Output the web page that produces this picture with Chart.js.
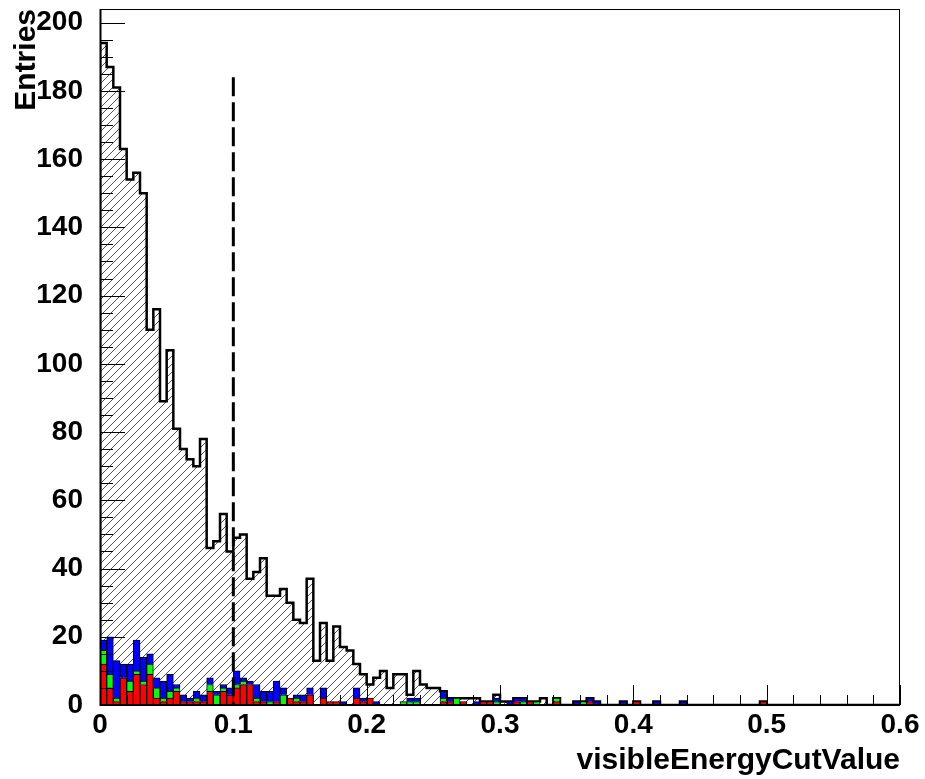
<!DOCTYPE html>
<html>
<head>
<meta charset="utf-8">
<script src="https://cdn.jsdelivr.net/npm/chart.js@4/dist/chart.umd.min.js"></script>
<style>
  html, body { margin: 0; padding: 0; background: #fff; }
</style>
</head>
<body>
<canvas id="histo" width="925" height="779"></canvas>
<script>
// binning : 120 bins de 0 a 0.6
var binMin   = 0;
var binWidth = 0.005;

// histogramme hachure (fond)
var fond = [
  194, 187, 181, 163, 154, 156, 150, 110, 116, 89,
  104, 81, 75, 72, 70, 78, 46, 48, 56, 45,
  49, 50, 37, 39, 43, 32, 32, 34, 30, 25,
  24, 37, 13, 24, 13, 23, 17, 16, 12, 9,
  6, 8, 10, 5, 9, 9, 3, 10, 6, 5,
  5, 4, 2, 2, 2, 2, 2, 1, 1, 3,
  1, 1, 2, 2, 1, 1, 2, 0, 2, 0,
  0, 1, 1, 2, 1, 0, 0, 0, 1, 0,
  1, 0, 0, 1, 0, 0, 0, 1, 0, 0,
  0, 0, 0, 0, 0, 0, 0, 0, 0, 1,
  0, 0, 0, 0, 0, 0, 0, 0, 0, 0,
  0, 0, 0, 0, 0, 0, 0, 0, 0, 0
];

// empilement : rouge en bas, vert, bleu en haut
var rouge = [
  12, 5, 1, 8, 4, 9, 6, 9, 2, 1,
  2, 4, 1, 1, 1, 1, 4, 0, 4, 3,
  5, 6, 6, 1, 1, 0, 1, 0, 2, 1,
  1, 3, 0, 2, 1, 1, 0, 0, 2, 1,
  2, 0, 0, 0, 0, 0, 0, 0, 0, 0,
  0, 1, 1, 0, 1, 0, 0, 1, 1, 0,
  0, 0, 1, 0, 1, 0, 0, 0, 1, 0,
  0, 0, 0, 1, 0, 0, 0, 0, 0, 0,
  1, 0, 0, 0, 0, 0, 0, 0, 0, 0,
  0, 0, 0, 0, 0, 0, 0, 0, 0, 1,
  0, 0, 0, 0, 0, 0, 0, 0, 0, 0,
  0, 0, 0, 0, 0, 0, 0, 0, 0, 0
];

var vert = [
  4, 4, 1, 0, 3, 1, 1, 3, 3, 1,
  2, 1, 0, 0, 1, 0, 2, 3, 1, 0,
  1, 1, 0, 1, 0, 1, 0, 3, 0, 1,
  0, 0, 0, 0, 0, 0, 0, 0, 0, 0,
  0, 0, 0, 0, 0, 1, 1, 1, 0, 0,
  0, 1, 0, 2, 0, 0, 0, 0, 0, 1,
  0, 0, 0, 1, 0, 1, 0, 0, 1, 0,
  0, 0, 1, 0, 0, 0, 0, 0, 0, 0,
  0, 0, 0, 0, 0, 0, 0, 0, 0, 0,
  0, 0, 0, 0, 0, 0, 0, 0, 0, 0,
  0, 0, 0, 0, 0, 0, 0, 0, 0, 0,
  0, 0, 0, 0, 0, 0, 0, 0, 0, 0
];

var bleu = [
  3, 11, 11, 4, 5, 9, 7, 3, 3, 5,
  5, 1, 2, 1, 2, 2, 2, 1, 1, 2,
  4, 1, 1, 4, 3, 3, 6, 2, 0, 1,
  2, 2, 0, 3, 0, 0, 1, 0, 3, 1,
  0, 1, 0, 0, 0, 0, 1, 1, 0, 0,
  0, 2, 1, 0, 0, 0, 1, 0, 0, 1,
  0, 1, 1, 1, 0, 0, 0, 0, 0, 0,
  0, 1, 0, 1, 1, 0, 0, 0, 1, 0,
  0, 0, 0, 1, 0, 0, 0, 1, 0, 0,
  0, 0, 0, 0, 0, 0, 0, 0, 0, 0,
  0, 0, 0, 0, 0, 0, 0, 0, 0, 0,
  0, 0, 0, 0, 0, 0, 0, 0, 0, 0
];

// ligne de coupure
var coupure        = 0.1;
var hauteurCoupure = 184;

var xMax = 0.6;
var yMax = 204;

function motifHachure(ctx) {
  var t = 8;
  var c = document.createElement("canvas");
  c.width = t;
  c.height = t;
  var g = c.getContext("2d");
  g.strokeStyle = "#555";
  g.lineWidth = 1;
  for (var k = -1; k <= 1; k++) {
    g.beginPath();
    g.moveTo(k * t - 1, t + 1);
    g.lineTo(k * t + t + 1, -1);
    g.stroke();
  }
  return ctx.createPattern(c, "repeat");
}

function pointsBarres(valeurs) {
  return valeurs.map(function(v, i) {
    return { x: binMin + (i + 0.5) * binWidth, y: v > 0 ? v : null };
  });
}

// contour en escalier : chaque point porte la valeur du bin qui se termine a x
function pointsContour(valeurs) {
  var pts = [{ x: binMin, y: 0 }];
  valeurs.forEach(function(v, i) {
    pts.push({ x: binMin + (i + 1) * binWidth, y: v });
  });
  return pts;
}

// pas de marge automatique autour des axes
function sansMarge(s) {
  s.paddingTop = 0;
  s.paddingBottom = 0;
  s.paddingLeft = 0;
  s.paddingRight = 0;
}

// cadre et graduations facon ROOT (vers l'interieur)
var cadre = {
  id: "cadre",
  afterDatasetsDraw: function(chart) {
    var ctx = chart.ctx;
    var a = chart.chartArea;
    var sx = chart.scales.x;
    var sy = chart.scales.y;
    ctx.save();
    ctx.strokeStyle = "#000";
    ctx.lineWidth = 1;
    ctx.strokeRect(a.left + 0.5, a.top + 0.5, a.right - a.left - 1, a.bottom - a.top);

    for (var v = 0; v <= 200; v += 5) {
      var py = Math.round(sy.getPixelForValue(v)) + 0.5;
      var ly = v % 20 === 0 ? 25 : 13;
      ctx.beginPath();
      ctx.moveTo(a.left, py);
      ctx.lineTo(a.left + ly, py);
      ctx.stroke();
    }
    for (var i = 0; i <= 30; i++) {
      var px = Math.round(sx.getPixelForValue(i * 0.02)) + 0.5;
      var lx = i % 5 === 0 ? 20 : 10;
      ctx.beginPath();
      ctx.moveTo(px, a.bottom);
      ctx.lineTo(px, a.bottom - lx);
      ctx.stroke();
    }

    ctx.lineWidth = 2;
    ctx.beginPath();
    ctx.moveTo(a.left + 0.5, a.top);
    ctx.lineTo(a.left + 0.5, a.bottom);
    ctx.lineTo(a.right, a.bottom);
    ctx.stroke();
    ctx.restore();
  }
};

var canvas = document.getElementById("histo");
var ctx = canvas.getContext("2d");

Chart.defaults.font.family = "'Liberation Sans', Arial, sans-serif";
Chart.defaults.color = "#000";

new Chart(ctx, {
  type: "bar",
  data: {
    datasets: [
      {
        label: "rouge",
        data: pointsBarres(rouge),
        backgroundColor: "#ff0000",
        borderColor: "#000",
        borderWidth: 1,
        stack: "signal",
        order: 1
      },
      {
        label: "vert",
        data: pointsBarres(vert),
        backgroundColor: "#00ff00",
        borderColor: "#000",
        borderWidth: 1,
        stack: "signal",
        order: 1
      },
      {
        label: "bleu",
        data: pointsBarres(bleu),
        backgroundColor: "#0000ff",
        borderColor: "#000",
        borderWidth: 1,
        stack: "signal",
        order: 1
      },
      {
        type: "line",
        label: "fond",
        data: pointsContour(fond),
        stepped: "after",
        borderColor: "#000",
        borderWidth: 2.5,
        backgroundColor: motifHachure(ctx),
        fill: "origin",
        pointRadius: 0,
        stack: "fond",
        order: 2
      },
      {
        type: "line",
        label: "coupure",
        data: [{ x: coupure, y: hauteurCoupure }, { x: coupure, y: 0 }],
        borderColor: "#000",
        borderWidth: 3,
        borderDash: [19, 6],
        pointRadius: 0,
        fill: false,
        stack: "coupure",
        order: 0
      }
    ]
  },
  options: {
    responsive: false,
    animation: false,
    events: [],
    layout: { padding: { left: 0, top: 9, right: 25, bottom: 0 } },
    datasets: {
      bar: { barPercentage: 1, categoryPercentage: 1, grouped: false }
    },
    plugins: {
      legend: { display: false },
      tooltip: { enabled: false }
    },
    scales: {
      x: {
        type: "linear",
        min: 0,
        max: xMax,
        offset: false,
        grid: { display: false, drawTicks: false, offset: false },
        border: { display: false },
        ticks: {
          stepSize: 0.1,
          autoSkip: false,
          maxRotation: 0,
          padding: 3,
          font: { size: 28, weight: "bold" }
        },
        title: {
          display: true,
          text: "visibleEnergyCutValue",
          align: "end",
          font: { size: 30, weight: "bold" },
          padding: { top: 0, bottom: 0 }
        },
        afterFit: function(s) { s.height = 74; sansMarge(s); }
      },
      y: {
        stacked: true,
        min: 0,
        max: yMax,
        grid: { display: false, drawTicks: false },
        border: { display: false },
        ticks: {
          stepSize: 20,
          includeBounds: false,
          padding: 17,
          font: { size: 28, weight: "bold" }
        },
        title: {
          display: true,
          text: "Entries",
          align: "end",
          font: { size: 30, weight: "bold" },
          padding: { top: 9, bottom: 0 }
        },
        afterFit: function(s) { s.width = 100; sansMarge(s); }
      }
    }
  },
  plugins: [cadre]
});
</script>
</body>
</html>
